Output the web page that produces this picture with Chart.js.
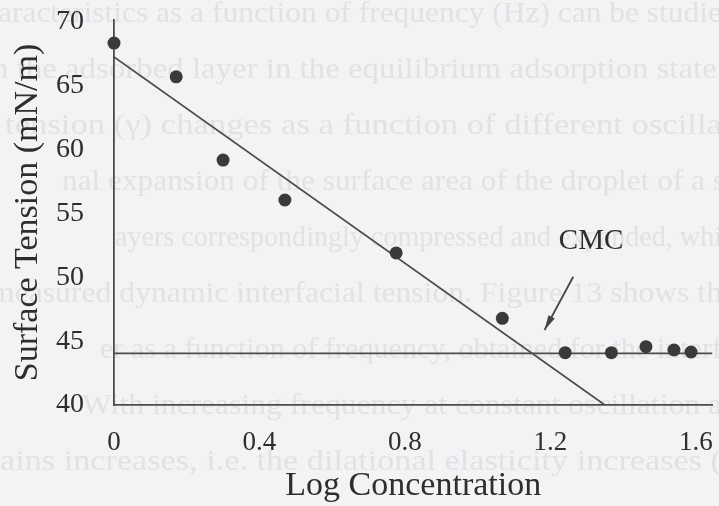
<!DOCTYPE html>
<html>
<head>
<meta charset="utf-8">
<script src="https://cdn.jsdelivr.net/npm/chart.js@4/dist/chart.umd.min.js"></script>
<style>
  html, body { margin: 0; padding: 0; background: #f3f3f5; }
  #wrap { width: 719px; height: 506px; }
</style>
</head>
<body>
<div id="wrap"><canvas id="c" width="719" height="506"></canvas></div>
<script>
// Measured surface tension versus log concentration
const logConc = [0, 0.171, 0.300, 0.470, 0.776, 1.068, 1.241, 1.368, 1.463, 1.540, 1.587];
const tension = [68.35, 65.71, 59.19, 56.06, 51.91, 46.79, 44.10, 44.10, 44.57, 44.31, 44.15];

// Fitted lines: falling branch and plateau above the CMC
const slopeX = [0, 1.35];
const slopeY = [67.27, 40];
const plateauX = [0, 1.646];
const plateauY = [44.05, 44.05];

// Axis ticks
const xTicks = [0, 0.4, 0.8, 1.2, 1.6];
const yTicks = [40, 45, 50, 55, 60, 65, 70];

// Faint printed text showing through the page
const pageText = [
  'aracteristics as a function of frequency (Hz) can be studie',
  'n the adsorbed layer in the equilibrium adsorption state.',
  'tension (\u03B3) changes as a function of different oscilla',
  'nal expansion of the surface area of the droplet of a s',
  'ayers correspondingly compressed and expanded, whi',
  'measured dynamic interfacial tension. Figure 13 shows th',
  'er as a function of frequency, obtained for the interf',
  'With increasing frequency at constant oscillation a',
  'ains increases, i.e. the dilational elasticity increases ('
];

const SERIF = '"Liberation Serif", "DejaVu Serif", serif';
const INK = '#2e2e2e';
const LINE = '#4c4c4c';

// scales keep their exact box: no extra room for overhanging labels
const noOverhang = s => {
  s.paddingLeft = 0; s.paddingRight = 0; s.paddingTop = 0; s.paddingBottom = 0;
};

const pagePlugin = {
  id: 'page',
  beforeDraw(chart) {
    const ctx = chart.ctx;
    ctx.save();
    ctx.fillStyle = '#f3f3f5';
    ctx.fillRect(0, 0, chart.width, chart.height);
    const spans = [[-2, 722], [-8, 725], [5, 722], [62, 725], [115, 722], [-10, 722], [100, 722], [82, 722], [0, 722]];
    ctx.font = '30px ' + SERIF;
    ctx.fillStyle = '#e2e2e5';
    ctx.textBaseline = 'middle';
    pageText.forEach((t, i) => {
      const [x0, x1] = spans[i];
      const w = ctx.measureText(t).width;
      const y = 14 + i * 56;
      ctx.save();
      ctx.translate(x0, y);
      ctx.scale((x1 - x0) / w, 1);
      ctx.fillText(t, 0, 0);
      ctx.restore();
    });
    ctx.restore();
  }
};

const cmcPlugin = {
  id: 'cmc',
  afterDatasetsDraw(chart) {
    const {ctx, scales: {x, y}} = chart;
    ctx.save();
    ctx.font = '29px ' + SERIF;
    ctx.fillStyle = INK;
    ctx.textAlign = 'center';
    ctx.textBaseline = 'middle';
    ctx.fillText('CMC', x.getPixelForValue(1.312), y.getPixelForValue(52.85));
    // arrow pointing at the break
    const x0 = x.getPixelForValue(1.263), y0 = y.getPixelForValue(50.05);
    const x1 = x.getPixelForValue(1.184), y1 = y.getPixelForValue(45.87);
    ctx.strokeStyle = '#444';
    ctx.lineWidth = 1.8;
    ctx.beginPath();
    ctx.moveTo(x0, y0);
    ctx.lineTo(x1, y1);
    ctx.stroke();
    const ang = Math.atan2(y1 - y0, x1 - x0);
    const len = 15, half = 3.6;
    ctx.fillStyle = '#444';
    ctx.beginPath();
    ctx.moveTo(x1, y1);
    ctx.lineTo(x1 - len * Math.cos(ang) + half * Math.sin(ang), y1 - len * Math.sin(ang) - half * Math.cos(ang));
    ctx.lineTo(x1 - len * Math.cos(ang) - half * Math.sin(ang), y1 - len * Math.sin(ang) + half * Math.cos(ang));
    ctx.closePath();
    ctx.fill();
    ctx.restore();
  }
};

new Chart(document.getElementById('c'), {
  type: 'scatter',
  data: {
    datasets: [
      {
        data: logConc.map((v, i) => ({x: v, y: tension[i]})),
        pointRadius: 6.5,
        pointHoverRadius: 6.5,
        backgroundColor: '#3a3a3a',
        borderWidth: 0,
        showLine: false,
        clip: false
      },
      {
        data: slopeX.map((v, i) => ({x: v, y: slopeY[i]})),
        showLine: true,
        pointRadius: 0,
        borderColor: LINE,
        borderWidth: 1.7,
        fill: false
      },
      {
        data: plateauX.map((v, i) => ({x: v, y: plateauY[i]})),
        showLine: true,
        pointRadius: 0,
        borderColor: LINE,
        borderWidth: 1.7,
        fill: false
      }
    ]
  },
  options: {
    responsive: false,
    animation: false,
    devicePixelRatio: 1,
    layout: {padding: {top: 20, left: 0, right: 0, bottom: 0}},
    plugins: {legend: {display: false}, tooltip: {enabled: false}},
    scales: {
      x: {
        type: 'linear',
        min: 0,
        max: 1.646,
        afterBuildTicks: s => { s.ticks = xTicks.map(v => ({value: v})); },
        afterFit: s => { s.height = 101; noOverhang(s); },
        grid: {display: false, drawTicks: false},
        border: {display: true, color: LINE, width: 1.8},
        ticks: {
          font: {family: SERIF, size: 27},
          color: INK,
          padding: 22,
          maxRotation: 0,
          autoSkip: false,
          callback: v => String(v)
        },
        title: {
          display: true,
          text: 'Log Concentration',
          font: {family: SERIF, size: 34},
          color: INK,
          padding: 0
        }
      },
      y: {
        type: 'linear',
        min: 40,
        max: 70.16,
        afterBuildTicks: s => { s.ticks = yTicks.map(v => ({value: v})); },
        afterFit: s => { s.width = 114; noOverhang(s); },
        grid: {display: false, drawTicks: false},
        border: {display: true, color: LINE, width: 1.8},
        ticks: {
          font: {family: SERIF, size: 28},
          color: INK,
          padding: 30,
          autoSkip: false,
          callback: v => String(v)
        },
        title: {
          display: true,
          text: 'Surface Tension (mN/m)',
          font: {family: SERIF, size: 34},
          color: INK,
          padding: {top: 8, bottom: 0}
        }
      }
    }
  },
  plugins: [pagePlugin, cmcPlugin]
});
</script>
</body>
</html>
